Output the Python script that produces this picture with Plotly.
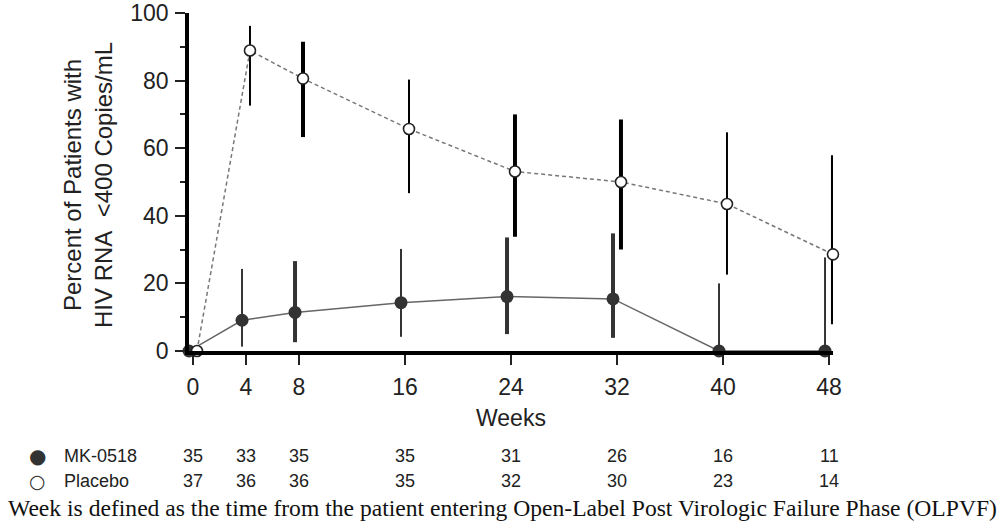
import plotly.graph_objects as go

# ---------------- data ----------------
weeks = [0, 4, 8, 16, 24, 32, 40, 48]
week_ticks = ["0", "4", "8", "16", "24", "32", "40", "48"]

mk_pct = [0, 9.1, 11.4, 14.3, 16.1, 15.4, 0, 0]
mk_lo = [None, 1.3, 2.6, 4.2, 5.0, 3.9, 0, 0]
mk_hi = [None, 24.3, 26.6, 30.2, 33.6, 34.8, 20.0, 27.7]
mk_n = [35, 33, 35, 35, 31, 26, 16, 11]

pl_pct = [0, 88.9, 80.6, 65.7, 53.1, 50.0, 43.5, 28.6]
pl_lo = [None, 72.6, 63.3, 46.7, 33.8, 30.0, 22.6, 7.9]
pl_hi = [None, 96.2, 91.5, 80.3, 70.0, 68.5, 64.7, 57.9]
pl_n = [37, 36, 36, 35, 32, 30, 23, 14]

series_names = ["MK-0518", "Placebo"]
footnote = ("Week is defined as the time from the patient entering "
            "Open-Label Post Virologic Failure Phase (OLPVF)")

# ---------------- styling ----------------
SANS = "Arial, Liberation Sans, sans-serif"
SERIF = "Times New Roman, Liberation Serif, serif"
mk_off, pl_off = -0.3, 0.3
mk_thick = [False, False, True, False, True, True, False, False]
pl_thick = [False, False, True, False, True, True, False, True]

fig = go.Figure()


def add_bars(xs, lo, hi, thick_flags, color, off):
    for flag, w in ((True, 4), (False, 2)):
        bx, by = [], []
        for x, l, h, f in zip(xs, lo, hi, thick_flags):
            if l is None or f != flag:
                continue
            bx += [x + off, x + off, None]
            by += [l, h, None]
        if bx:
            fig.add_trace(go.Scatter(x=bx, y=by, mode="lines",
                                     line=dict(color=color, width=w),
                                     showlegend=False, hoverinfo="skip",
                                     cliponaxis=False))


# MK-0518
add_bars(weeks, mk_lo, mk_hi, mk_thick, "#333333", mk_off)
fig.add_trace(go.Scatter(
    x=[w + mk_off for w in weeks], y=mk_pct, mode="lines+markers",
    name=series_names[0], cliponaxis=False,
    line=dict(color="#666666", width=1.5),
    marker=dict(size=13, color="#333333", line=dict(width=0)),
    showlegend=False))

# Placebo
add_bars(weeks, pl_lo, pl_hi, pl_thick, "#000000", pl_off)
fig.add_trace(go.Scatter(
    x=[w + pl_off for w in weeks], y=pl_pct, mode="lines+markers",
    name=series_names[1], cliponaxis=False,
    line=dict(color="#777777", width=1.5, dash="4px,3px"),
    marker=dict(size=11, color="white", line=dict(width=1.6, color="#222222")),
    showlegend=False))

# ---------------- layout ----------------
L, R, T, B = 189, 166, 13, 175
plot_h = 526 - T - B
plot_w = 999 - L - R
X0_PIX, PX_PER_WEEK = 193, 13.25
x_lo = (L - X0_PIX) / PX_PER_WEEK
x_hi = (999 - R - X0_PIX) / PX_PER_WEEK


def py(pix):  # pixel row -> paper y
    return (526 - B - pix) / plot_h


def px(pix):  # pixel col -> paper x
    return (pix - L) / plot_w


fig.update_layout(
    width=999, height=526,
    margin=dict(l=L, r=R, t=T, b=B, pad=0, autoexpand=False),
    paper_bgcolor="white", plot_bgcolor="white",
    font=dict(family=SANS, color="#222222"),
    showlegend=False,
    xaxis=dict(range=[x_lo, x_hi], tickvals=weeks, ticktext=week_ticks,
               automargin=False,
               showgrid=False, zeroline=False, showline=True,
               linecolor="black", linewidth=3.5,
               ticks="outside", ticklen=10, tickwidth=1.5, tickcolor="#222222",
               tickfont=dict(size=23, family=SANS, color="#222222"),
               ticklabelstandoff=3),
    yaxis=dict(range=[0, 100], tickvals=[0, 20, 40, 60, 80, 100],
               automargin=False,
               showgrid=False, zeroline=False, showline=True,
               linecolor="black", linewidth=3.5,
               ticks="outside", ticklen=10, tickwidth=1.5, tickcolor="#222222",
               tickfont=dict(size=23, family=SANS, color="#222222"),
               ticklabelstandoff=2,
               minor=dict(dtick=10, tick0=0, ticks="outside", ticklen=5,
                          tickwidth=1.5, tickcolor="#222222", showgrid=False)),
)

ann = []
# Axis titles
ann.append(dict(text="Weeks", xref="paper", yref="paper", x=0.5, y=py(418),
                xanchor="center", yanchor="middle", showarrow=False,
                font=dict(size=23, family=SANS, color="#222222")))
ann.append(dict(text="Percent of Patients with<br>HIV RNA&nbsp; &lt;400 Copies/mL",
                xref="paper", yref="paper", x=px(88), y=py(185),
                xanchor="center", yanchor="middle", textangle=-90,
                showarrow=False,
                font=dict(size=24, family=SANS, color="#222222")))

# Number-at-risk table
rows = [(mk_n, "●", "#333333", 456, 20), (pl_n, "○", "#333333", 481, 19)]
for (counts, sym, col, row_y, sym_size), name in zip(rows, series_names):
    ann.append(dict(text=sym, xref="paper", yref="paper", x=px(37), y=py(row_y),
                    xanchor="center", yanchor="middle", showarrow=False,
                    font=dict(size=sym_size, family="DejaVu Sans", color=col)))
    ann.append(dict(text=name, xref="paper", yref="paper", x=px(62), y=py(row_y),
                    xanchor="left", yanchor="middle", showarrow=False,
                    font=dict(size=18, family=SANS, color="#222222")))
    for w, n in zip(weeks, counts):
        ann.append(dict(text=str(n), xref="x", yref="paper", x=w, y=py(row_y),
                        xanchor="center", yanchor="middle", showarrow=False,
                        font=dict(size=18, family=SANS, color="#222222")))

ann.append(dict(text=footnote, xref="paper", yref="paper", x=px(502), y=py(508),
                xanchor="center", yanchor="middle", showarrow=False,
                font=dict(size=23.6, family=SERIF, color="#111111")))

fig.update_layout(annotations=ann)

fig.write_html("out.html")
